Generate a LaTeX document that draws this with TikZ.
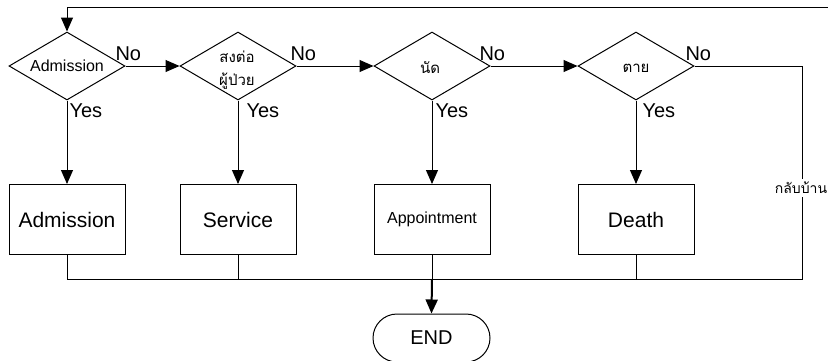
\documentclass[tikz,border=0pt]{standalone}
\usepackage{fontspec}
\setmainfont{Liberation Sans}
\newfontfamily\thaifont[Script=Thai]{Loma}
\usetikzlibrary{shapes.geometric,arrows.meta}

\tikzset{
  decision/.style={draw, diamond, inner sep=0pt, minimum width=116pt, minimum height=68pt},
  process/.style={draw, rectangle, inner sep=0pt, minimum width=116pt, minimum height=70pt},
  terminal/.style={draw, rectangle, rounded corners=24pt, inner sep=0pt, minimum width=117pt, minimum height=48pt},
  flow/.style={-{Triangle[length=14pt,width=12pt]}},
  answer/.style={font=\fontsize{20}{22}\selectfont, inner sep=0pt, anchor=base west},
  thlabel/.style={font=\thaifont\fontsize{15}{23}\selectfont, inner sep=0pt, align=center},
}

\begin{document}
\begin{tikzpicture}[x=1pt, y=-1pt, line width=1pt]
  \useasboundingbox (0,0) rectangle (828,360);
  \clip (0,0) rectangle (828,360);

  % decisions
  \node[decision] (d1) at (67,66) {};
  \node[decision] (d2) at (238,66) {};
  \node[decision] (d3) at (432,66) {};
  \node[decision] (d4) at (636,66) {};

  \node[font=\fontsize{16}{18}\selectfont, inner sep=0pt] (d1t) at (67,66) {Admission};
  \node[thlabel] (d2t) at (237,70) {สงต่อ\\ผู้ป่วย};
  \node[thlabel] (d3t) at (430,68) {นัด};
  \node[thlabel] (d4t) at (636,68) {ตาย};

  % processes
  \node[process] (b1) at (67,219.5) {\fontsize{21}{24}\selectfont Admission};
  \node[process] (b2) at (238,219.5) {\fontsize{21}{24}\selectfont Service};
  \node[process] (b3) at (432,219.5) {\fontsize{16}{18}\selectfont Appointment};
  \node[process] (b4) at (636,219.5) {\fontsize{21}{24}\selectfont Death};

  % end
  \node[terminal] (end) at (431.5,338) {\fontsize{20}{22}\selectfont END};

  % routing points
  \coordinate (loopR) at (830,7);
  \coordinate (loopL) at (67,7);
  \coordinate (j) at (432,279);
  \coordinate (r) at (802,279);

  % no branches
  \draw[flow] (d1.east) -- (d2.west);
  \draw[flow] (d2.east) -- (d3.west);
  \draw[flow] (d3.east) -- (d4.west);
  \draw (d4.east) -| (r) -- (j);
  \node[thlabel, font=\thaifont\fontsize{14}{20}\selectfont, fill=white, inner ysep=3pt] (home) at (801,188) {กลับบ้าน};

  % loop back to the first decision
  \draw[flow] (loopR) -- (loopL) -- (d1.north);

  % yes branches
  \draw[flow] (d1.south) -- (b1.north);
  \draw[flow] (d2.south) -- (b2.north);
  \draw[flow] (d3.south) -- (b3.north);
  \draw[flow] (d4.south) -- (b4.north);

  % merge into the end
  \draw (b1.south) |- (j);
  \draw (b2.south) |- (j);
  \draw (b3.south) -- (j);
  \draw (b4.south) |- (j);
  \draw[flow, line width=2pt] (j) -- (end.north);

  % answer labels
  \node[answer] (n1) at (115,60) {No};
  \node[answer] (n2) at (290,60) {No};
  \node[answer] (n3) at (479,60) {No};
  \node[answer] (n4) at (685,60) {No};
  \node[answer] (y1) at (69,117) {Yes};
  \node[answer] (y2) at (246,117) {Yes};
  \node[answer] (y3) at (435,117) {Yes};
  \node[answer] (y4) at (642,117) {Yes};
\end{tikzpicture}
\end{document}
